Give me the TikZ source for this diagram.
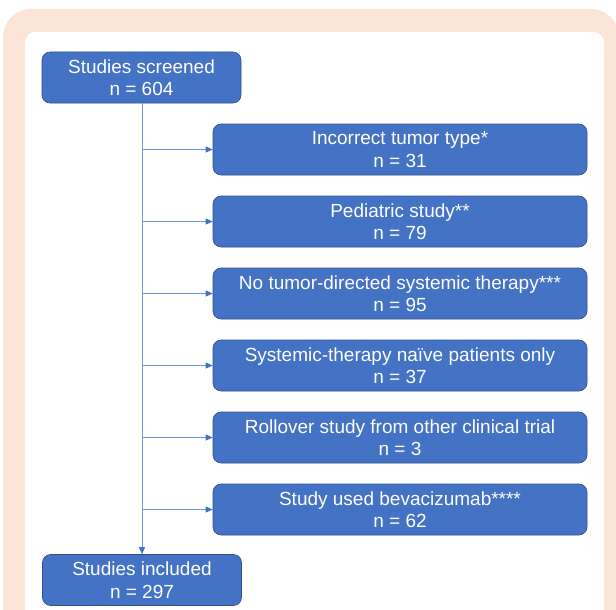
\documentclass[tikz,border=0pt]{standalone}
\usepackage{fontspec}
\setmainfont{Liberation Sans}
\usetikzlibrary{arrows.meta}
\definecolor{peach}{HTML}{FCE4D6}
\definecolor{boxblue}{HTML}{4472C4}
\definecolor{boxedge}{HTML}{2F528F}
\definecolor{linkblue}{HTML}{6F93D3}
\begin{document}
\begin{tikzpicture}[x=1pt,y=-1pt,
  box/.style={draw=boxedge, line width=0.6pt, fill=boxblue, rounded corners=8pt,
    text=white, font=\fontsize{19}{22.5}\selectfont, align=center, inner sep=0pt,
    minimum height=51pt},
  leftbox/.style={box, minimum width=199pt},
  rightbox/.style={box, minimum width=374pt},
  link/.style={draw=linkblue, line width=0.9pt,
    -{Triangle[length=7pt,width=6pt,fill=boxblue,color=boxblue]}}]
\useasboundingbox (0,0) rectangle (616,610);
\clip (0,0) rectangle (616,610);
\fill[peach, rounded corners=28pt] (3,9) rectangle (619,660);
\fill[white, rounded corners=10pt] (25,32) rectangle (604,660);
\node[leftbox] (scr) at (141.5,77.5) {Studies screened\\n = 604};
\node[leftbox] (inc) at (142,580) {Studies included\\n = 297};
\node[rightbox] (r1) at (400,149.5) {Incorrect tumor type*\\n = 31};
\node[rightbox] (r2) at (400,221.5) {Pediatric study**\\n = 79};
\node[rightbox] (r3) at (400,293.5) {No tumor-directed systemic therapy***\\n = 95};
\node[rightbox] (r4) at (400,365.5) {Systemic-therapy naïve patients only\\n = 37};
\node[rightbox] (r5) at (400,437.5) {Rollover study from other clinical trial\\n = 3};
\node[rightbox] (r6) at (400,509.5) {Study used bevacizumab****\\n = 62};
\draw[link] (scr.south -| inc.north) -- (inc.north);
\foreach \r in {r1,r2,r3,r4,r5,r6}{
  \draw[link] (inc.north |- \r.west) -- (\r.west);
}
\end{tikzpicture}
\end{document}
